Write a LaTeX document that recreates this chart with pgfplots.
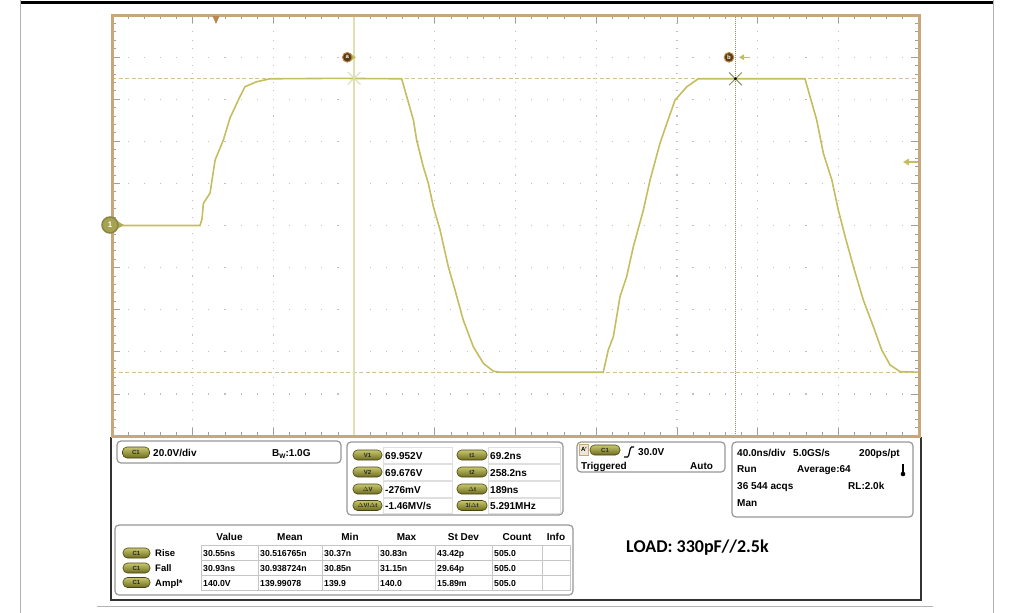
\documentclass[border=0pt]{standalone}
\usepackage{pgfplots}
\pgfplotsset{compat=1.18}
\usepackage{fontspec}
\setmainfont{Liberation Sans}
\newfontfamily\calibri{Carlito}
\definecolor{trace}{RGB}{196,190,96}
\definecolor{tanb}{RGB}{200,168,122}
\definecolor{tandash}{RGB}{214,190,150}
\definecolor{gridc}{RGB}{192,192,192}
\definecolor{pilltop}{RGB}{200,200,110}
\definecolor{pillbot}{RGB}{110,108,30}
\definecolor{pilldark}{RGB}{70,68,20}
\definecolor{curA}{RGB}{222,224,176}
\definecolor{curB}{RGB}{140,140,90}
\definecolor{mk}{RGB}{90,58,20}
\definecolor{trig}{RGB}{185,135,75}
\definecolor{boxc}{RGB}{150,150,150}
\begin{document}
\begin{tikzpicture}
\begin{axis}[
  at={(112pt,-436pt)}, anchor=south west,
  width=807pt, height=421pt, scale only axis,
  xmin=-50.8, xmax=349.2, ymin=-100, ymax=100,
  xtick={-50.8,-10.8,29.2,69.2,109.2,149.2,189.2,229.2,269.2,309.2,349.2},
  ytick={-100,-80,-60,-40,-20,0,20,40,60,80,100},
  xticklabels={}, yticklabels={},
  minor x tick num=4, minor y tick num=4,
  tick align=inside, major tick length=8pt, minor tick length=4pt,
  tick style={gray!75, line width=0.8pt},
  grid=major,
  x grid style={gridc, line width=1.2pt, dash pattern=on 1.1pt off 7.32pt, dash phase=0.55pt},
  y grid style={gridc, line width=1.2pt, dash pattern=on 1.1pt off 15.04pt, dash phase=0.55pt},
  axis line style={draw=none},
]
% horizontal level cursors
\addplot[tandash, line width=1.3pt, dash pattern=on 4pt off 2.5pt] coordinates {(-50.8,69.7) (349.2,69.7)};
\addplot[tandash, line width=1.3pt, dash pattern=on 4pt off 2.5pt] coordinates {(-50.8,-69.7) (349.2,-69.7)};
% time cursors
\addplot[curA, line width=1.6pt] coordinates {(69.2,-100) (69.2,100)};
\addplot[curB, line width=1.6pt, dash pattern=on 1pt off 1pt] coordinates {(258.2,-100) (258.2,100)};
% trace
\addplot[trace, line width=1.6pt] coordinates {
(-50.8,0) (-7.2,0) (-6.2,3) (-5.5,10.5) (-2.2,15.4) (0.3,31.1) (4.4,40.6) (7.7,51.1)
(12.6,61.2) (15.1,65.9) (20.9,68.3) (27.5,69.7) (60,69.9) (92.8,69.7) (95.3,61.2)
(98.6,50.1) (100.2,40.6) (103.5,27.9) (106.0,20.0) (108.5,8.9) (111.8,-2.1)
(115.9,-19.6) (119.2,-30.6) (123.3,-44.9) (128.3,-57.6) (133.3,-65.5) (138.2,-69.2)
(141.5,-69.7) (192.7,-69.7) (195.2,-59.1) (197.7,-52.8) (201.0,-33.8) (204.3,-24.3)
(207.6,-10.1) (212.6,7.4) (215.9,21.6) (220.8,39.0) (224.2,48.5) (228.3,59.6)
(234.1,65.9) (239.8,69.7) (292.7,69.7) (295.2,61.2) (298.5,50.1) (301.8,34.3)
(306.0,21.6) (309.2,7.4) (312.6,-5.3) (316.7,-19.6) (321.6,-35.4) (326.6,-48.1)
(330.7,-59.1) (334.9,-66.3) (339.8,-69.4) (349.2,-69.7)};
% cursor crossings
\addplot[only marks, mark=x, mark size=9pt, mark options={curA, line width=1pt}] coordinates {(69.2,69.95)};
\addplot[only marks, mark=x, mark size=9pt, mark options={curB, line width=1pt}] coordinates {(258.2,69.68)};
\addplot[only marks, mark=*, mark size=1.2pt, mark options={black}] coordinates {(258.2,69.68)};
\end{axis}
\begin{scope}[x=1pt,y=-1pt]
% outer lines
\draw[black, line width=2.5pt] (20,2.5) -- (993,2.5);
\draw[gray!60, line width=0.8pt] (20,0) -- (20,613);
\draw[gray!60, line width=0.8pt] (993,0) -- (993,613);
\draw[gray!60, line width=1pt] (97,606) -- (933,606);
% panel frame
\draw[black!80, line width=1.5pt] (111,437) -- (111,600) -- (921,600) -- (921,437);
% plot frame
\draw[tanb, line width=3pt] (112,15) rectangle (919,436);
% trigger marker
\fill[trig] (212.5,16) -- (219.5,16) -- (216,24) -- cycle;
% channel marker
\fill[trace!90!black] (117,221) -- (124,225) -- (117,229) -- cycle;
\draw[trace!70!black, line width=1.5pt, fill=trace!85!black] (110,225) circle (8);
\node[font=\fontsize{8}{8}\selectfont\bfseries, text=white] at (110,225) {1};
% trigger level arrow right
\fill[trace] (903,162) -- (909,158.5) -- (909,165.5) -- cycle;
\draw[trace, line width=1.5pt] (908,162) -- (918,162);
% cursor labels
\fill[trace] (351,54) -- (356,57.3) -- (351,60.6) -- cycle;
\draw[trig, line width=1pt, fill=mk] (347.3,57.3) circle (4.8);
\node[font=\fontsize{6}{6}\selectfont\bfseries, text=white] at (347.3,57) {a};
\draw[trig, line width=1pt, fill=mk] (729,57.3) circle (4.8);
\node[font=\fontsize{6}{6}\selectfont\bfseries, text=white] at (729,57) {b};
\fill[trace] (739,57.3) -- (744,54.3) -- (744,60.3) -- cycle;
\draw[trace, line width=1pt] (743,57.3) -- (750,57.3);
\tikzset{pill/.style={draw=pilldark, line width=0.6pt, rounded corners=4.5pt,
  top color=pilltop, bottom color=pillbot, minimum height=10pt, inner sep=0pt,
  font=\fontsize{6}{6}\selectfont\bfseries, text=black!85},
  tx/.style={anchor=base west, inner sep=0pt, font=\fontsize{10}{11}\selectfont\bfseries}}
% channel box
\draw[boxc, line width=1.2pt, rounded corners=4pt] (117,441) rectangle (341,463);
\node[pill, minimum width=27pt, minimum height=11pt] at (136,452.5) {C1};
\node[tx] at (153,456.5) {20.0V/div};
\node[tx] at (272,456.5) {B\raisebox{-2pt}{\fontsize{6.5}{6}\selectfont W}:1.0G};
% cursor box
\draw[boxc, line width=1.2pt, rounded corners=4pt] (347,442) rectangle (563,515);
\foreach \ya/\yb in {447/463,464/480,481/497,498/513}{
  \draw[gray!25, line width=0.6pt] (383,\ya) rectangle (452,\yb);
  \draw[gray!25, line width=0.6pt] (488,\ya) rectangle (560,\yb);}
\node[pill, minimum width=29pt] at (367.5,455) {V1};
\node[pill, minimum width=29pt] at (367.5,472) {V2};
\node[pill, minimum width=29pt] at (367.5,489) {$\Delta$V};
\node[pill, minimum width=29pt] at (367.5,505.5) {$\Delta$V/$\Delta$t};
\node[pill, minimum width=30pt] at (472,455) {t1};
\node[pill, minimum width=30pt] at (472,472) {t2};
\node[pill, minimum width=30pt] at (472,489) {$\Delta$t};
\node[pill, minimum width=30pt] at (472,505.5) {1/$\Delta$t};
\node[tx] at (385,459) {69.952V};
\node[tx] at (385,476) {69.676V};
\node[tx] at (385,493) {-276mV};
\node[tx] at (385,509.5) {-1.46MV/s};
\node[tx] at (490,459) {69.2ns};
\node[tx] at (490,476) {258.2ns};
\node[tx] at (490,493) {189ns};
\node[tx] at (490,509.5) {5.291MHz};
% trigger box
\draw[boxc, line width=1.2pt, rounded corners=4pt] (577,442) rectangle (725,472);
\draw[tanb, fill=tanb!30, line width=0.8pt] (579.5,444) rectangle (588.5,455);
\node[font=\fontsize{6}{6}\selectfont\bfseries] at (584,449.5) {A'};
\node[pill, minimum width=30pt] at (605,450) {C1};
\draw[black, line width=1.2pt] (624,457) -- (627.5,457) .. controls (629.5,457) and (629.5,447) .. (631.5,447) -- (634,447);
\node[tx] at (638,455) {30.0V};
\node[tx] at (581,469.5) {Triggered};
\node[tx] at (690,469.5) {Auto};
% timebase box
\draw[boxc, line width=1.2pt, rounded corners=4pt] (732,442) rectangle (913,517);
\node[tx] at (737,456) {40.0ns/div};
\node[tx] at (793,456) {5.0GS/s};
\node[tx, anchor=base east] at (900,456) {200ps/pt};
\node[tx] at (737,472.5) {Run};
\node[tx] at (797,472.5) {Average:64};
\draw[black, line width=2pt] (903,464) -- (903,472);
\fill[black] (903,474) circle (2.3);
\node[tx] at (737,489) {36 544 acqs};
\node[tx] at (848,489) {RL:2.0k};
\node[tx] at (737,506) {Man};
% measurement table
\draw[boxc, line width=1.2pt, rounded corners=4pt] (115,525) rectangle (573,595);
\foreach \c/\lab in {229.5/Value,290/Mean,350/Min,406.5/Max,463.5/St Dev,517/Count,556/Info}{
  \node[anchor=base, inner sep=0pt, font=\fontsize{10}{11}\selectfont\bfseries] at (\c,540) {\lab};}
\draw[gray!45, line width=0.8pt] (201,545) rectangle (570,590.5);
\foreach \y in {560.5,575.5}{\draw[gray!45, line width=0.8pt] (201,\y) -- (570,\y);}
\foreach \x in {258,322,378,435,492,542}{\draw[gray!45, line width=0.8pt] (\x,545) -- (\x,590.5);}
\foreach \y/\lab in {553/Rise,568/Fall,582.5/Ampl*}{
  \node[pill, minimum width=27pt] at (136.5,\y) {C1};
  \node[tx, font=\fontsize{9.5}{10}\selectfont\bfseries] at (155,\y+3.5) {\lab};}
\foreach \x/\a/\b/\c in {203/30.55ns/30.93ns/140.0V,260/30.516765n/30.938724n/139.99078,
  324/30.37n/30.85n/139.9,380/30.83n/31.15n/140.0,437/43.42p/29.64p/15.89m,494/505.0/505.0/505.0}{
  \node[tx, font=\fontsize{8.7}{10}\selectfont\bfseries] at (\x,556.5) {\a};
  \node[tx, font=\fontsize{8.7}{10}\selectfont\bfseries] at (\x,571.5) {\b};
  \node[tx, font=\fontsize{8.7}{10}\selectfont\bfseries] at (\x,586) {\c};}
% load note
\node[anchor=base west, inner sep=0pt, font=\calibri\bfseries\fontsize{18}{20}\selectfont] at (626,552) {LOAD: 330pF//2.5k};
\end{scope}
\pgfresetboundingbox
\path[use as bounding box] (0pt,0pt) rectangle (1013pt,-613pt);
\end{tikzpicture}
\end{document}
